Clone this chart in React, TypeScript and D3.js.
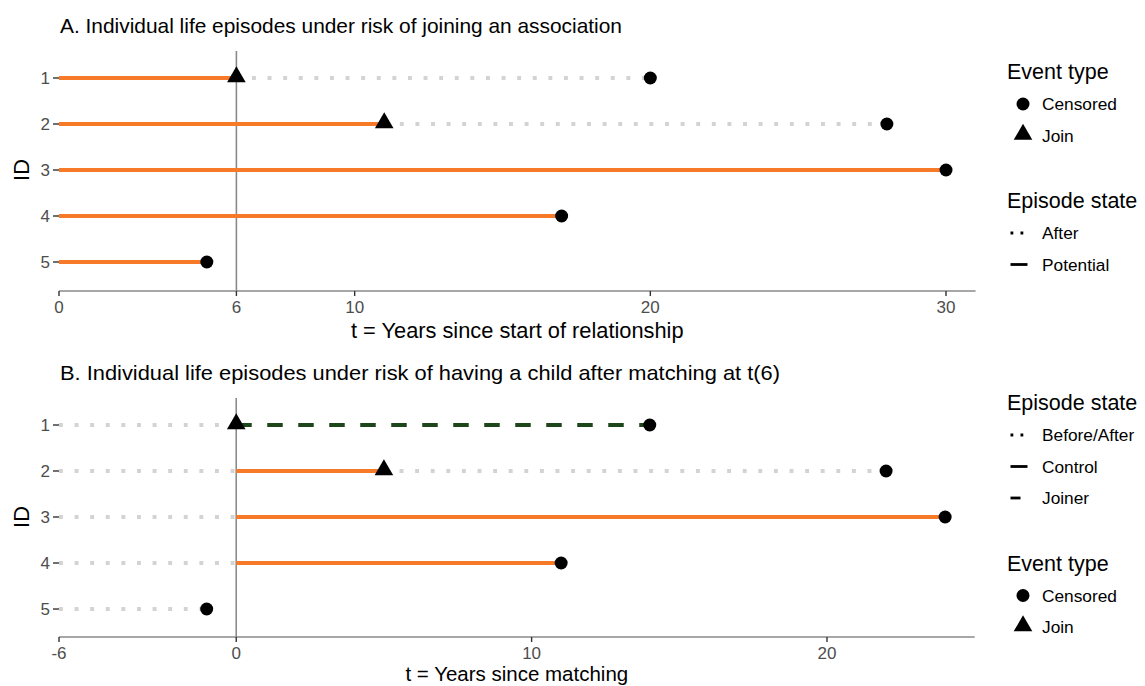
import React, { useEffect, useRef } from 'react';
import * as d3 from 'd3';

interface Segment {
  id: number;
  start: number;
  end: number;
  state: string;
}

interface EventPoint {
  id: number;
  time: number;
  type: 'Censored' | 'Join';
}

const ids = [1, 2, 3, 4, 5];

// Panel A: years since start of relationship
const segmentsA: Segment[] = [
  { id: 1, start: 0, end: 6, state: 'Potential' },
  { id: 1, start: 6, end: 20, state: 'After' },
  { id: 2, start: 0, end: 11, state: 'Potential' },
  { id: 2, start: 11, end: 28, state: 'After' },
  { id: 3, start: 0, end: 30, state: 'Potential' },
  { id: 4, start: 0, end: 17, state: 'Potential' },
  { id: 5, start: 0, end: 5, state: 'Potential' },
];
const eventsA: EventPoint[] = [
  { id: 1, time: 6, type: 'Join' },
  { id: 1, time: 20, type: 'Censored' },
  { id: 2, time: 11, type: 'Join' },
  { id: 2, time: 28, type: 'Censored' },
  { id: 3, time: 30, type: 'Censored' },
  { id: 4, time: 17, type: 'Censored' },
  { id: 5, time: 5, type: 'Censored' },
];
const ticksA = [0, 6, 10, 20, 30];

// Panel B: years since matching
const segmentsB: Segment[] = [
  { id: 1, start: -6, end: 0, state: 'Before/After' },
  { id: 1, start: 0, end: 14, state: 'Joiner' },
  { id: 2, start: -6, end: 0, state: 'Before/After' },
  { id: 2, start: 0, end: 5, state: 'Control' },
  { id: 2, start: 5, end: 22, state: 'Before/After' },
  { id: 3, start: -6, end: 0, state: 'Before/After' },
  { id: 3, start: 0, end: 24, state: 'Control' },
  { id: 4, start: -6, end: 0, state: 'Before/After' },
  { id: 4, start: 0, end: 11, state: 'Control' },
  { id: 5, start: -6, end: -1, state: 'Before/After' },
];
const eventsB: EventPoint[] = [
  { id: 1, time: 0, type: 'Join' },
  { id: 1, time: 14, type: 'Censored' },
  { id: 2, time: 5, type: 'Join' },
  { id: 2, time: 22, type: 'Censored' },
  { id: 3, time: 24, type: 'Censored' },
  { id: 4, time: 11, type: 'Censored' },
  { id: 5, time: -1, type: 'Censored' },
];
const ticksB = [-6, 0, 10, 20];

const FONT = '"Liberation Sans", Arial, Helvetica, sans-serif';
const ORANGE = '#F67A28';
const GREEN = '#1D461A';
const DOT = '#D3D3D3';
const AXIS = '#8a8a8a';

const lineStyle: Record<string, { color: string; dash: string | null; keyDash: string | null }> = {
  Potential: { color: ORANGE, dash: null, keyDash: null },
  Control: { color: ORANGE, dash: null, keyDash: null },
  After: { color: DOT, dash: '3.9 11.7', keyDash: '2.8 7.2' },
  'Before/After': { color: DOT, dash: '3.9 11.7', keyDash: '2.8 7.2' },
  Joiner: { color: GREEN, dash: '15.5 15.5', keyDash: '10 30' },
};

const App = () => {
  const svgRef = useRef<SVGSVGElement>(null);

  useEffect(() => {
    if (!svgRef.current) return;
    const svg = d3.select(svgRef.current);
    svg.selectAll('*').remove();

    const triangle = d3.symbol().type(d3.symbolTriangle).size(150);

    const drawPanel = (opts: {
      title: string;
      titleLen: number;
      titleY: number;
      segments: Segment[];
      events: EventPoint[];
      ticks: number[];
      x: d3.ScaleLinear<number, number>;
      xMax: number;
      refX: number;
      yTop: number;
      rowRange: [number, number];
      axisY: number;
      xLabel: string;
      xLabelY: number;
      xLabelSize: number;
    }) => {
      const { x } = opts;
      const y = d3.scalePoint<number>().domain(ids).range(opts.rowRange);
      const g = svg.append('g');

      g.append('text')
        .attr('x', 60)
        .attr('y', opts.titleY)
        .attr('font-size', 21)
        .attr('fill', '#000')
        .attr('textLength', opts.titleLen)
        .attr('lengthAdjust', 'spacingAndGlyphs')
        .text(opts.title);

      // reference line
      g.append('line')
        .attr('x1', x(opts.refX)).attr('x2', x(opts.refX))
        .attr('y1', opts.yTop).attr('y2', opts.axisY)
        .attr('stroke', AXIS).attr('stroke-width', 1.6);

      // x axis
      g.append('line')
        .attr('x1', x(opts.ticks[0])).attr('x2', x(opts.xMax))
        .attr('y1', opts.axisY).attr('y2', opts.axisY)
        .attr('stroke', AXIS).attr('stroke-width', 1.4);
      const xt = g.selectAll('g.xt').data(opts.ticks).enter().append('g');
      xt.append('line')
        .attr('x1', (d) => x(d)).attr('x2', (d) => x(d))
        .attr('y1', opts.axisY).attr('y2', opts.axisY + 5)
        .attr('stroke', '#333').attr('stroke-width', 1.4);
      xt.append('text')
        .attr('x', (d) => x(d)).attr('y', opts.axisY + 22)
        .attr('text-anchor', 'middle')
        .attr('font-size', 17).attr('fill', '#4d4d4d')
        .text((d) => String(d));
      g.append('text')
        .attr('x', (x(opts.ticks[0]) + x(opts.xMax)) / 2)
        .attr('y', opts.xLabelY)
        .attr('text-anchor', 'middle')
        .attr('font-size', opts.xLabelSize)
        .text(opts.xLabel);

      // y axis ticks
      const yt = g.selectAll('g.yt').data(ids).enter().append('g');
      yt.append('line')
        .attr('x1', 53).attr('x2', 59)
        .attr('y1', (d) => y(d)!).attr('y2', (d) => y(d)!)
        .attr('stroke', '#333').attr('stroke-width', 1.4);
      yt.append('text')
        .attr('x', 50).attr('y', (d) => y(d)! + 6)
        .attr('text-anchor', 'end')
        .attr('font-size', 17).attr('fill', '#4d4d4d')
        .text((d) => String(d));
      const midY = (opts.rowRange[0] + opts.rowRange[1]) / 2;
      g.append('text')
        .attr('transform', `translate(29,${midY}) rotate(-90)`)
        .attr('text-anchor', 'middle')
        .attr('font-size', 21.8)
        .text('ID');

      // episodes
      g.selectAll('line.seg').data(opts.segments).enter().append('line')
        .attr('x1', (d) => x(d.start)).attr('x2', (d) => x(d.end))
        .attr('y1', (d) => y(d.id)!).attr('y2', (d) => y(d.id)!)
        .attr('stroke', (d) => lineStyle[d.state].color)
        .attr('stroke-width', 3.9)
        .attr('stroke-dasharray', (d) => lineStyle[d.state].dash)
        .attr('stroke-linecap', 'butt');

      // events
      opts.events.forEach((e) => {
        if (e.type === 'Censored') {
          g.append('circle')
            .attr('cx', x(e.time)).attr('cy', y(e.id)!)
            .attr('r', 6.5).attr('fill', '#000');
        } else {
          g.append('path')
            .attr('d', triangle()!)
            .attr('transform', `translate(${x(e.time)},${y(e.id)! - 1})`)
            .attr('fill', '#000');
        }
      });
    };

    const scaleA = d3.scaleLinear().domain([0, 30]).range([59, 946]);
    const scaleB = d3.scaleLinear().domain([-6, 20]).range([59, 827]);

    drawPanel({
      title: 'A. Individual life episodes under risk of joining an association',
      titleLen: 562,
      titleY: 33,
      segments: segmentsA,
      events: eventsA,
      ticks: ticksA,
      x: scaleA,
      xMax: 31,
      refX: 6,
      yTop: 51,
      rowRange: [78, 262],
      axisY: 291,
      xLabel: 't = Years since start of relationship',
      xLabelY: 338,
      xLabelSize: 21.8,
    });
    drawPanel({
      title: 'B. Individual life episodes under risk of having a child after matching at t(6)',
      titleLen: 720,
      titleY: 380,
      segments: segmentsB,
      events: eventsB,
      ticks: ticksB,
      x: scaleB,
      xMax: 25,
      refX: 0,
      yTop: 398,
      rowRange: [425, 609],
      axisY: 637,
      xLabel: 't = Years since matching',
      xLabelY: 681,
      xLabelSize: 20.5,
    });

    // legends
    const legend = (
      top: number,
      blocks: { title: string; items: { label: string; key: string }[] }[]
    ) => {
      const g = svg.append('g');
      let yy = top;
      blocks.forEach((b) => {
        g.append('text').attr('x', 1007).attr('y', yy).attr('font-size', 21.5).text(b.title);
        yy += 31;
        b.items.forEach((it) => {
          const cy = yy - 6;
          if (it.key === 'circle') {
            g.append('circle').attr('cx', 1023).attr('cy', cy).attr('r', 6.5).attr('fill', '#000');
          } else if (it.key === 'triangle') {
            g.append('path').attr('d', triangle()!).attr('transform', `translate(1023,${cy - 1})`).attr('fill', '#000');
          } else {
            const st = lineStyle[it.key];
            g.append('line')
              .attr('x1', 1010.5).attr('x2', 1027.5)
              .attr('y1', cy).attr('y2', cy)
              .attr('stroke', '#000').attr('stroke-width', 2.8)
              .attr('stroke-dasharray', st.keyDash);
          }
          g.append('text').attr('x', 1042).attr('y', yy).attr('font-size', 17.3).text(it.label);
          yy += 31.5;
        });
        yy += 35;
      });
    };

    legend(79, [
      { title: 'Event type', items: [{ label: 'Censored', key: 'circle' }, { label: 'Join', key: 'triangle' }] },
      { title: 'Episode state', items: [{ label: 'After', key: 'After' }, { label: 'Potential', key: 'Potential' }] },
    ]);
    legend(410, [
      {
        title: 'Episode state',
        items: [
          { label: 'Before/After', key: 'Before/After' },
          { label: 'Control', key: 'Control' },
          { label: 'Joiner', key: 'Joiner' },
        ],
      },
      { title: 'Event type', items: [{ label: 'Censored', key: 'circle' }, { label: 'Join', key: 'triangle' }] },
    ]);
  }, []);

  return (
    <svg
      ref={svgRef}
      width={1145}
      height={686}
      viewBox="0 0 1145 686"
      style={{ position: 'absolute', left: 0, top: 0, fontFamily: FONT, background: '#fff' }}
    />
  );
};

export default App;
